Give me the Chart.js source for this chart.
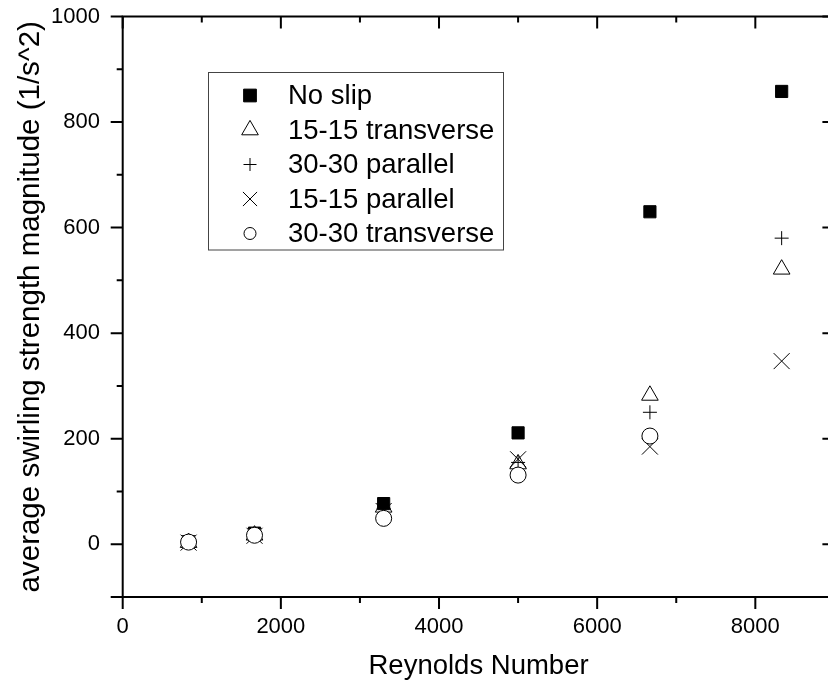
<!DOCTYPE html>
<html><head><meta charset="utf-8">
<script src="https://cdn.jsdelivr.net/npm/chart.js@4/dist/chart.umd.min.js"></script>
<style>
html,body{margin:0;padding:0;overflow:hidden;background:#fff;width:828px;height:687px}
#wrap{position:absolute;left:0;top:0;width:850px;height:687px}
</style>
</head><body>
<div id="wrap"><canvas id="c" width="850" height="687"></canvas></div>
<script>
// ---- data ----
const reynolds = [833, 1667, 3300, 5000, 6667, 8333];
const noSlip        = [5, 21, 77, 211, 630, 858];
const trans1515     = [3, 17, 70, 152, 282, 521];
const par3030       = [4, 18, 68, 155, 250, 580];
const par1515       = [3, 16, 63, 161, 185, 347];
const trans3030     = [4, 17, 49, 131, 205, null];
const seriesNames = ['No slip', '15-15 transverse', '30-30 parallel', '15-15 parallel', '30-30 transverse'];
const xTickLabels = [0, 2000, 4000, 6000, 8000];
const xMinorTicks = [1000, 3000, 5000, 7000, 9000];
const yTickLabels = [0, 200, 400, 600, 800, 1000];
const yMinorTicks = [-100, 100, 300, 500, 700, 900];
const xTitle = 'Reynolds Number';
const yTitle = 'average swirling strength magnitude (1/s^2)';

const FONT = "'Liberation Sans', Arial, Helvetica, sans-serif";

function pts(ys) { return reynolds.map((x, i) => ({x: x, y: ys[i]})).filter(p => p.y !== null); }

const styles = [
  {pointStyle: 'rect',     radius: 8.6, bg: '#000', legendR: 9},
  {pointStyle: 'triangle', radius: 9.6, bg: 'rgba(0,0,0,0)', legendR: 9.6},
  {pointStyle: 'cross',    radius: 7,   bg: 'rgba(0,0,0,0)', legendR: 6.5},
  {pointStyle: 'crossRot', radius: 11.3, bg: 'rgba(0,0,0,0)', legendR: 10},
  {pointStyle: 'circle',   radius: 8,   bg: '#fff', legendR: 6}
];
const allSeries = [noSlip, trans1515, par3030, par1515, trans3030];
const orders = [4, 3, 2, 1, 0];

const datasets = allSeries.map((s, i) => ({
  label: seriesNames[i],
  data: pts(s),
  pointStyle: styles[i].pointStyle,
  pointRadius: styles[i].radius,
  pointHoverRadius: styles[i].radius,
  backgroundColor: styles[i].bg,
  borderColor: '#000',
  pointBorderWidth: 1,
  borderWidth: 1,
  showLine: false,
  order: orders[i]
}));

const framePlugin = {
  id: 'frame',
  afterDatasetsDraw(chart) {
    const {ctx, chartArea: a, scales: {x, y}} = chart;
    const MAJ = 12, MIN = 6;
    ctx.save();
    ctx.strokeStyle = '#000';
    ctx.lineWidth = 2;
    ctx.lineCap = 'butt';
    ctx.beginPath();
    ctx.rect(a.left, a.top, a.right - a.left, a.bottom - a.top);
    ctx.stroke();
    ctx.beginPath();
    const xt = (v, len) => {
      const px = x.getPixelForValue(v);
      ctx.moveTo(px, a.bottom); ctx.lineTo(px, a.bottom + len);
      ctx.moveTo(px, a.top); ctx.lineTo(px, a.top + len);
    };
    xTickLabels.forEach(v => xt(v, MAJ));
    xMinorTicks.forEach(v => xt(v, MIN));
    const yt = (v, len) => {
      const py = y.getPixelForValue(v);
      ctx.moveTo(a.left, py); ctx.lineTo(a.left - len, py);
      ctx.moveTo(a.right, py); ctx.lineTo(a.right - len, py);
    };
    yTickLabels.forEach(v => yt(v, MAJ));
    yMinorTicks.forEach(v => yt(v, v === y.min ? MAJ : MIN));
    ctx.stroke();
    ctx.restore();
  },
  afterDraw(chart) {
    const {ctx} = chart;
    const box = {left: 208.5, top: 72.5, w: 295, h: 177.5};
    ctx.save();
    ctx.fillStyle = '#fff';
    ctx.fillRect(box.left, box.top, box.w, box.h);
    ctx.strokeStyle = '#444';
    ctx.lineWidth = 1;
    ctx.strokeRect(box.left, box.top, box.w, box.h);
    const rowY0 = 95.5, rowStep = 34.5, markX = 250, textX = 288;
    chart.data.datasets.forEach((ds, i) => {
      const cy = rowY0 + i * rowStep;
      ctx.fillStyle = ds.backgroundColor;
      ctx.strokeStyle = '#000';
      ctx.lineWidth = 1;
      Chart.helpers.drawPoint(ctx, {pointStyle: ds.pointStyle, radius: styles[i].legendR, rotation: 0, borderWidth: 1}, markX, cy);
      ctx.fillStyle = '#000';
      ctx.font = '27.5px ' + FONT;
      ctx.textBaseline = 'middle';
      ctx.textAlign = 'left';
      ctx.fillText(ds.label, textX, cy + 1);
    });
    ctx.restore();
  }
};

const hiddenGrid = (len) => ({display: true, drawOnChartArea: false, drawTicks: true,
                              tickLength: len, color: 'rgba(0,0,0,0)'});

new Chart(document.getElementById('c'), {
  type: 'scatter',
  data: {datasets: datasets},
  options: {
    responsive: false,
    animation: false,
    events: [],
    layout: {padding: {left: 0, top: 16.5, right: 15.6, bottom: 0}},
    plugins: {legend: {display: false}, tooltip: {enabled: false}},
    scales: {
      x: {
        type: 'linear', min: 0, max: 9000,
        border: {display: false},
        grid: hiddenGrid(17),
        afterBuildTicks: s => { s.ticks = xTickLabels.map(v => ({value: v})); },
        afterFit: s => { s.height = 90; },
        ticks: {padding: 0, color: '#000', maxRotation: 0, autoSkip: false,
                font: {family: FONT, size: 22}, callback: v => String(v)},
        title: {display: true, text: xTitle, color: '#000',
                font: {family: FONT, size: 27.5, lineHeight: 1}, padding: {top: 0, bottom: 6.5}}
      },
      y: {
        type: 'linear', min: -100, max: 1000,
        border: {display: false},
        grid: hiddenGrid(22.7),
        afterBuildTicks: s => { s.ticks = yTickLabels.map(v => ({value: v})); },
        afterFit: s => { s.width = 122.7; },
        ticks: {padding: 0, color: '#000', autoSkip: false,
                font: {family: FONT, size: 22}, callback: v => String(v)},
        title: {display: true, text: yTitle, color: '#000',
                font: {family: FONT, size: 29.5, lineHeight: 1}, padding: {top: 16, bottom: 0}}
      }
    }
  },
  plugins: [framePlugin]
});
</script>
</body></html>
